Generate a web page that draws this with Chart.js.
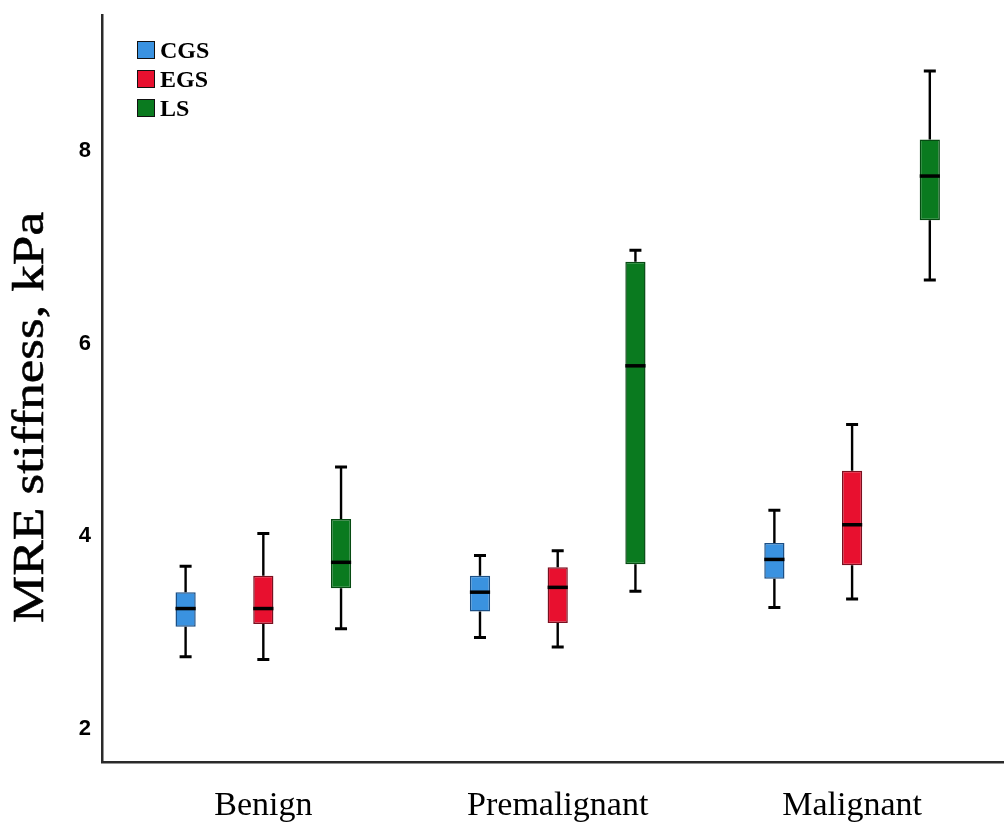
<!DOCTYPE html>
<html>
<head>
<meta charset="utf-8">
<script src="https://cdn.jsdelivr.net/npm/chart.js@4/dist/chart.umd.min.js"></script>
<style>
  html, body { margin: 0; padding: 0; background: #fff; }
  #wrap { position: relative; width: 1004px; height: 823px; }
  #legend { position: absolute; left: 137px; top: 36px; font-family: "Liberation Serif", "Times New Roman", serif; font-weight: bold; font-size: 24px; color: #000; line-height: 1; }
  #legend .row { display: flex; align-items: center; height: 28.7px; }
  #legend .sw { width: 16px; height: 16px; border: 1.5px solid #111; margin-right: 5px; }
</style>
</head>
<body>
<div id="wrap">
  <canvas id="c" width="1004" height="823"></canvas>
  <div id="legend"></div>
</div>
<script>
// ---- data ----
const categories = ['Benign', 'Premalignant', 'Malignant'];
const categoryIndex = [0, 1, 2];
const seriesNames = ['CGS', 'EGS', 'LS'];
const yTicks = [2, 4, 6, 8];
const yTitle = 'MRE stiffness, kPa';

const cgsMin = [2.75, 2.95, 3.26];
const cgsQ1  = [3.06, 3.22, 3.56];
const cgsMed = [3.25, 3.42, 3.76];
const cgsQ3  = [3.42, 3.59, 3.93];
const cgsMax = [3.69, 3.80, 4.27];

const egsMin = [2.72, 2.85, 3.35];
const egsQ1  = [3.09, 3.10, 3.70];
const egsMed = [3.25, 3.47, 4.12];
const egsQ3  = [3.59, 3.68, 4.68];
const egsMax = [4.03, 3.85, 5.16];

const lsMin = [3.04, 3.43, 6.66];
const lsQ1  = [3.46, 3.71, 7.28];
const lsMed = [3.73, 5.77, 7.74];
const lsQ3  = [4.18, 6.85, 8.12];
const lsMax = [4.72, 6.97, 8.83];

// ---- styles ----
const fills   = ['#3a92e0', '#e8102f', '#0a7a1f'];
const borders = ['#1b4f85', '#7a1020', '#064a12'];

const stats = [
  {min: cgsMin, q1: cgsQ1, med: cgsMed, q3: cgsQ3, max: cgsMax},
  {min: egsMin, q1: egsQ1, med: egsMed, q3: egsQ3, max: egsMax},
  {min: lsMin,  q1: lsQ1,  med: lsMed,  q3: lsQ3,  max: lsMax}
];

const datasets = stats.map((s, i) => ({
  label: seriesNames[i],
  data: categoryIndex.map(j => ({ x: j, y: [s.q1[j], s.q3[j]] })),
  backgroundColor: fills[i],
  borderColor: borders[i],
  borderWidth: 1.5,
  borderSkipped: false,
  categoryPercentage: 0.792,
  barPercentage: 0.26
}));

const boxPlugin = {
  id: 'boxWhiskers',
  afterDatasetsDraw(chart) {
    const ctx = chart.ctx;
    const y = chart.scales.y;
    chart.data.datasets.forEach((ds, i) => {
      const meta = chart.getDatasetMeta(i);
      const s = stats[i];
      meta.data.forEach((el, j) => {
        const x = el.x;
        const half = el.width / 2;
        const pMin = y.getPixelForValue(s.min[j]);
        const pQ1 = y.getPixelForValue(s.q1[j]);
        const pMed = y.getPixelForValue(s.med[j]);
        const pQ3 = y.getPixelForValue(s.q3[j]);
        const pMax = y.getPixelForValue(s.max[j]);
        ctx.save();
        ctx.strokeStyle = '#000';
        ctx.lineCap = 'butt';
        ctx.lineWidth = 2.4;
        ctx.beginPath();
        ctx.moveTo(x, pQ3); ctx.lineTo(x, pMax);
        ctx.moveTo(x, pQ1); ctx.lineTo(x, pMin);
        ctx.stroke();
        ctx.lineWidth = 3;
        ctx.beginPath();
        ctx.moveTo(x - 6, pMax); ctx.lineTo(x + 6, pMax);
        ctx.moveTo(x - 6, pMin); ctx.lineTo(x + 6, pMin);
        ctx.stroke();
        ctx.lineWidth = 3.5;
        ctx.beginPath();
        ctx.moveTo(x - half, pMed); ctx.lineTo(x + half, pMed);
        ctx.stroke();
        ctx.restore();
      });
    });
  }
};

const titlePlugin = {
  id: 'yTitle',
  afterDraw(chart) {
    const ctx = chart.ctx;
    const area = chart.chartArea;
    ctx.save();
    ctx.font = '44px "Liberation Serif", "Times New Roman", serif';
    ctx.fillStyle = '#000';
    ctx.strokeStyle = '#000';
    ctx.lineWidth = 0.6;
    ctx.textAlign = 'center';
    ctx.textBaseline = 'middle';
    const w = ctx.measureText(yTitle).width;
    const k = 411 / w;
    ctx.translate(31, (area.top + area.bottom) / 2 + 29);
    ctx.rotate(-Math.PI / 2);
    ctx.scale(k, 1);
    ctx.fillText(yTitle, 0, 0);
    ctx.strokeText(yTitle, 0, 0);
    ctx.restore();
  }
};

const chart = new Chart(document.getElementById('c'), {
  type: 'bar',
  data: { labels: categories, datasets },
  plugins: [boxPlugin, titlePlugin],
  options: {
    responsive: false,
    animation: false,
    layout: { padding: { top: 15, right: 0, left: 0, bottom: 0 } },
    plugins: { legend: { display: false }, tooltip: { enabled: false } },
    scales: {
      x: {
        type: 'linear',
        min: -0.548,
        max: 2.516,
        offset: false,
        grid: { display: false, drawTicks: false },
        border: { display: true, color: '#2a2a2a', width: 2.5 },
        afterBuildTicks(scale) { scale.ticks = categoryIndex.map(v => ({ value: v })); },
        ticks: {
          padding: 24,
          color: '#000',
          autoSkip: false,
          maxRotation: 0,
          callback: (v) => categories[v] ?? '',
          font: { family: '"Liberation Serif", "Times New Roman", serif', size: 34 }
        },
        afterFit(scale) { scale.height = 61; scale.paddingLeft = 0; scale.paddingRight = 0; }
      },
      y: {
        min: 1.657,
        max: 9.412,
        grid: { display: false, drawTicks: false },
        border: { display: true, color: '#2a2a2a', width: 2.5 },
        afterBuildTicks(scale) { scale.ticks = yTicks.map(v => ({ value: v })); },
        ticks: {
          padding: 11,
          color: '#000',
          font: { family: '"Liberation Sans", Arial, sans-serif', size: 22, weight: 'bold' }
        },
        afterFit(scale) { scale.width = 102; scale.paddingTop = 0; scale.paddingBottom = 0; }
      }
    }
  }
});

// HTML legend built from datasets
const leg = document.getElementById('legend');
chart.data.datasets.forEach(ds => {
  const row = document.createElement('div');
  row.className = 'row';
  const sw = document.createElement('span');
  sw.className = 'sw';
  sw.style.background = ds.backgroundColor;
  const t = document.createElement('span');
  t.textContent = ds.label;
  row.appendChild(sw); row.appendChild(t);
  leg.appendChild(row);
});
</script>
</body>
</html>
